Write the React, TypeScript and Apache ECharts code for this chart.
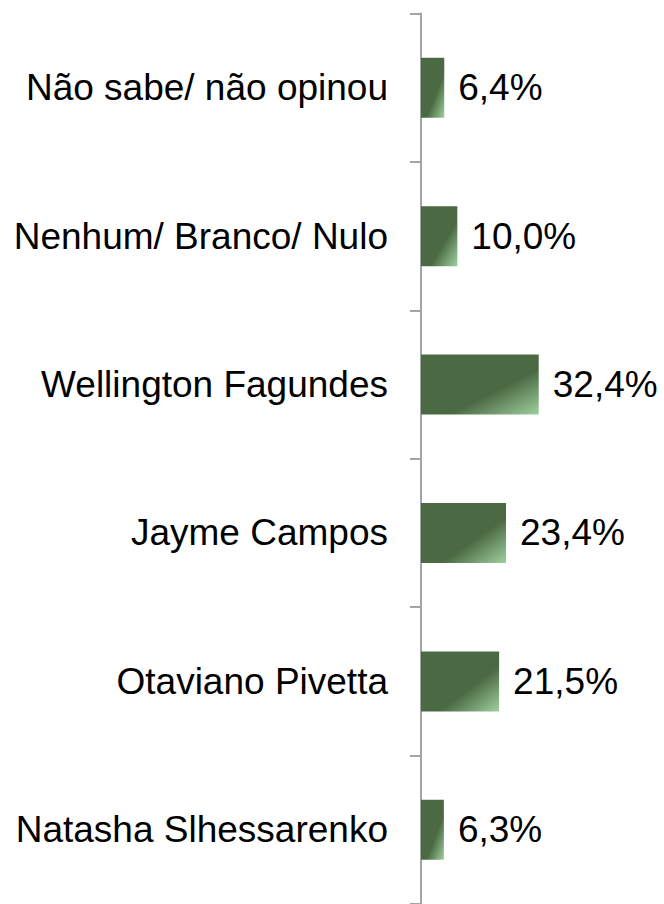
import React, { useEffect, useRef } from "react";
import * as echarts from "echarts";

const categories = [
  "Não sabe/ não opinou",
  "Nenhum/ Branco/ Nulo",
  "Wellington Fagundes",
  "Jayme Campos",
  "Otaviano Pivetta",
  "Natasha Slhessarenko",
];
const values = [6.4, 10.0, 32.4, 23.4, 21.5, 6.3];

export default function App() {
  const ref = useRef<HTMLDivElement>(null);
  useEffect(() => {
    if (!ref.current) return;
    const chart = echarts.init(ref.current, null, { renderer: "svg" });
    const grad = new echarts.graphic.LinearGradient(0, 0, 1, 1, [
      { offset: 0, color: "#4b6a43" },
      { offset: 0.62, color: "#4b6a43" },
      { offset: 1, color: "#9fd09f" },
    ]);
    chart.setOption({
      animation: false,
      backgroundColor: "#ffffff",
      grid: { left: 421, top: 13.5, width: 218, height: 896, containLabel: false },
      xAxis: {
        type: "value",
        min: 0,
        max: 60,
        show: false,
      },
      yAxis: {
        type: "category",
        inverse: true,
        data: categories,
        axisLine: { show: true, lineStyle: { color: "#a0a5aa", width: 2 } },
        axisTick: { show: true, length: 11, lineStyle: { color: "#a0a5aa", width: 2 } },
        axisLabel: {
          margin: 33,
          fontSize: 37,
          color: "#000000",
          fontFamily: "Liberation Sans, Arial, sans-serif",
        },
        splitLine: { show: false },
      },
      series: [
        {
          type: "bar",
          data: values,
          barWidth: 60,
          itemStyle: { color: grad },
          label: {
            show: true,
            position: "right",
            distance: 14,
            fontSize: 37,
            color: "#000000",
            fontFamily: "Liberation Sans, Arial, sans-serif",
            formatter: (p: any) => p.value.toFixed(1).replace(".", ",") + "%",
          },
        },
      ],
    });
    return () => chart.dispose();
  }, []);
  return (
    <div
      ref={ref}
      style={{ position: "fixed", left: 0, top: 0, width: 664, height: 904 }}
    />
  );
}
